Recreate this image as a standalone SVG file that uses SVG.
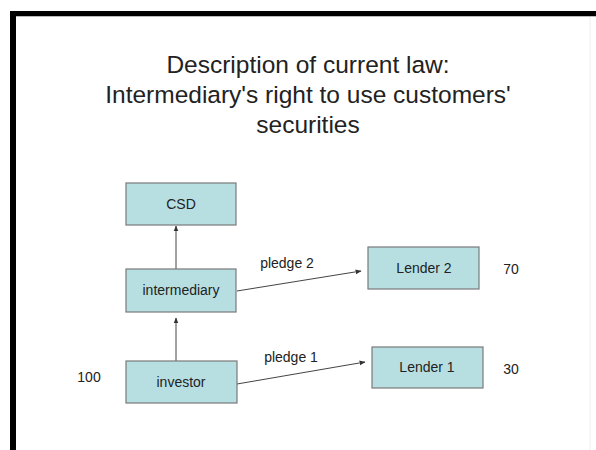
<svg xmlns="http://www.w3.org/2000/svg" width="596" height="450" viewBox="0 0 596 450">
<defs>
<marker id="ah" viewBox="0 0 10 10" refX="9" refY="5" markerWidth="6" markerHeight="6" orient="auto" markerUnits="userSpaceOnUse">
<path d="M0,1 L10,5 L0,9 z" fill="#333"/>
</marker>
</defs>
<style>
.node{fill:#b7dfe2;stroke:#7a7a7a;stroke-width:1.2}
.lbl{font-family:"Liberation Sans",Arial,sans-serif;font-size:14px;fill:#222;text-anchor:middle}
.title{font-family:"Liberation Sans",Arial,sans-serif;font-size:24.5px;fill:#222;text-anchor:middle}
.conn{stroke:#444;stroke-width:1;fill:none;marker-end:url(#ah)}
</style>
<rect width="596" height="450" fill="#fff"/>
<rect x="10" y="11" width="586" height="5" fill="#000"/>
<rect x="10" y="11" width="6" height="439" fill="#000"/>
<line x1="16" y1="16.5" x2="596" y2="16.5" stroke="#bbb" stroke-width="1"/>
<line x1="590" y1="17" x2="590" y2="450" stroke="#eee" stroke-width="1"/>
<g id="title">
<text class="title" x="308" y="73">Description of current law:</text>
<text class="title" x="308" y="103">Intermediary's right to use customers'</text>
<text class="title" x="308" y="133">securities</text>
</g>
<g id="connectors">
<line class="conn" x1="176" y1="269" x2="176" y2="226"/>
<line class="conn" x1="176" y1="361" x2="176" y2="318"/>
<line class="conn" x1="237" y1="291" x2="361" y2="271"/>
<line class="conn" x1="237" y1="384" x2="365" y2="362"/>
<text class="lbl" x="287" y="268">pledge 2</text>
<text class="lbl" x="291" y="362">pledge 1</text>
</g>
<g id="csd"><rect class="node" x="126" y="183" width="110" height="42"/><text class="lbl" x="181" y="209">CSD</text></g>
<g id="intermediary"><rect class="node" x="126" y="269" width="110" height="43"/><text class="lbl" x="181" y="295">intermediary</text></g>
<g id="investor"><rect class="node" x="126" y="361" width="111" height="42"/><text class="lbl" x="181" y="387">investor</text></g>
<g id="lender2"><rect class="node" x="368" y="247" width="111" height="42"/><text class="lbl" x="424" y="273">Lender 2</text></g>
<g id="lender1"><rect class="node" x="372" y="347" width="111" height="41"/><text class="lbl" x="427" y="372">Lender 1</text></g>
<g id="values">
<text class="lbl" x="511" y="274">70</text>
<text class="lbl" x="511" y="374">30</text>
<text class="lbl" x="89" y="382">100</text>
</g>
</svg>
